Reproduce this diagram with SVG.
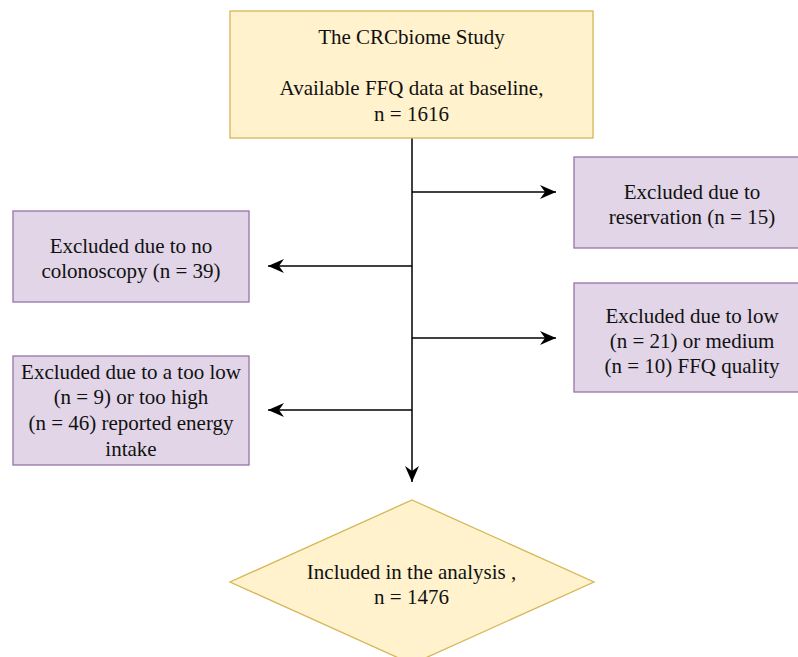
<svg xmlns="http://www.w3.org/2000/svg" width="798" height="657" viewBox="0 0 798 657">
<style>
.y{fill:#fff2cc;stroke:#d6b656;stroke-width:1.3}
.p{fill:#e1d5e7;stroke:#9673a6;stroke-width:1.3}
.t{font-family:"Liberation Serif","Times New Roman",serif;font-size:21px;fill:#111;text-anchor:middle}
.c{fill:none;stroke:#000;stroke-width:1.5}
</style>
<defs>
<marker id="ah" markerUnits="userSpaceOnUse" markerWidth="18" markerHeight="16" viewBox="-16 -8 18 16" refX="0" refY="0" orient="auto">
<path d="M0,0 L-16,-7 L-11,0 L-16,7 Z" fill="#000"/>
</marker>
</defs>
<rect width="798" height="657" fill="#fff"/>
<g id="connectors">
<line class="c" x1="412" y1="138" x2="412" y2="482" marker-end="url(#ah)"/>
<line class="c" x1="412" y1="192" x2="556" y2="192" marker-end="url(#ah)"/>
<line class="c" x1="412" y1="266" x2="268" y2="266" marker-end="url(#ah)"/>
<line class="c" x1="412" y1="338" x2="556" y2="338" marker-end="url(#ah)"/>
<line class="c" x1="412" y1="410" x2="268" y2="410" marker-end="url(#ah)"/>
</g>
<g id="study">
<rect class="y" x="230" y="11" width="363" height="127"/>
<text class="t" x="411.5" y="44">The CRCbiome Study</text>
<text class="t" x="411.5" y="95">Available FFQ data at baseline,</text>
<text class="t" x="411.5" y="121">n = 1616</text>
</g>
<g id="reservation">
<rect class="p" x="574" y="157" width="236" height="91"/>
<text class="t" x="692" y="199">Excluded due to</text>
<text class="t" x="692" y="224">reservation (n = 15)</text>
</g>
<g id="colonoscopy">
<rect class="p" x="13" y="211" width="236" height="91"/>
<text class="t" x="131" y="253">Excluded due to no</text>
<text class="t" x="131" y="278">colonoscopy (n = 39)</text>
</g>
<g id="ffq">
<rect class="p" x="574" y="283" width="236" height="109"/>
<text class="t" x="692" y="323">Excluded due to low</text>
<text class="t" x="692" y="348">(n = 21) or medium</text>
<text class="t" x="692" y="373">(n = 10) FFQ quality</text>
</g>
<g id="energy">
<rect class="p" x="13" y="356" width="236" height="109"/>
<text class="t" x="131" y="379">Excluded due to a too low</text>
<text class="t" x="131" y="404">(n = 9) or too high</text>
<text class="t" x="131" y="430">(n = 46) reported energy</text>
<text class="t" x="131" y="456">intake</text>
</g>
<g id="included">
<polygon class="y" points="412,500 594,582 412,664 230,582"/>
<text class="t" x="411.5" y="579">Included in the analysis ,</text>
<text class="t" x="411.5" y="604">n = 1476</text>
</g>
</svg>
